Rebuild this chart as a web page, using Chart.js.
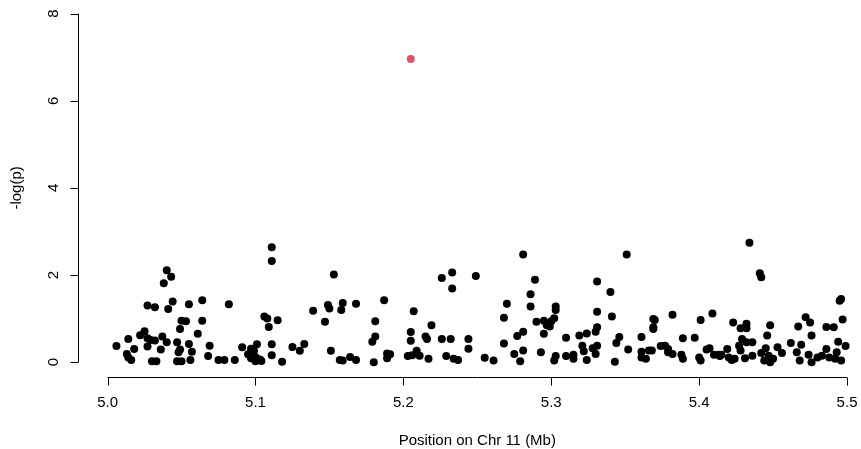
<!DOCTYPE html>
<html>
<head>
<meta charset="utf-8">
<script src="https://cdn.jsdelivr.net/npm/chart.js@4"></script>
<style>
  html, body { margin: 0; padding: 0; background: #fff; }
  #wrap { width: 861px; height: 449px; }
</style>
</head>
<body>
<div id="wrap"><canvas id="assoc" width="861" height="449"></canvas></div>
<script>
// marker positions (Mb) and -log(p)
const positionMb = [
  5.006,5.014,5.018,5.013,5.014,5.016,5.022,5.025,5.027,5.029,5.032,5.027,5.027,5.032,5.030,5.033,
  5.036,5.037,5.038,5.040,5.043,5.041,5.044,5.040,5.047,5.048,5.049,5.049,5.050,5.053,5.047,5.050,
  5.055,5.055,5.056,5.057,5.061,5.064,5.064,5.068,5.069,5.075,5.079,5.082,5.086,5.091,5.095,5.097,
  5.097,5.099,5.100,5.100,5.101,5.103,5.104,5.106,5.108,5.109,5.111,5.111,5.111,5.111,5.115,5.118,
  5.125,5.130,5.133,5.139,5.147,5.149,5.150,5.151,5.153,5.157,5.158,5.159,5.159,5.164,5.168,5.168,
  5.179,5.180,5.181,5.181,5.187,5.189,5.191,5.189,
  5.203,5.205,5.205,5.206,5.207,5.209,5.211,5.215,5.216,5.217,5.219,5.226,5.226,5.229,5.232,5.233,
  5.233,5.234,5.237,5.244,5.244,5.249,5.255,5.261,5.268,5.268,5.270,5.275,5.277,5.279,5.281,5.281,
  5.281,5.286,5.286,5.289,5.290,5.293,5.295,5.295,5.297,5.299,5.300,5.302,5.303,5.303,5.303,5.302,
  5.310,5.310,5.315,5.315,5.319,5.321,5.322,5.324,5.324,5.328,5.331,5.331,5.331,5.330,5.331,5.330,
  5.340,5.341,5.343,5.344,5.346,5.351,5.352,5.361,5.361,5.361,5.364,5.366,5.368,5.369,5.370,5.369,
  5.369,5.374,5.377,5.379,5.379,5.382,5.382,5.388,5.389,5.389,5.397,5.400,5.401,5.401,
  5.405,5.407,5.409,5.410,5.413,5.414,5.415,5.419,5.420,5.422,5.423,5.424,5.427,5.428,5.428,5.429,
  5.431,5.432,5.432,5.432,5.434,5.436,5.436,5.441,5.442,5.442,5.444,5.445,5.446,5.447,5.448,5.448,
  5.450,5.453,5.456,5.462,5.466,5.467,5.468,5.469,5.472,5.474,5.475,5.476,5.476,5.480,5.483,5.486,
  5.486,5.488,5.491,5.492,5.493,5.494,5.495,5.496,5.496,5.497,5.499
];
const negLogP = [
  0.37,0.53,0.30,0.19,0.11,0.05,0.62,0.71,0.55,0.51,0.50,0.36,1.30,1.26,0.02,0.02,
  0.29,0.59,1.81,2.11,1.96,1.22,1.39,0.46,0.46,0.23,0.29,0.76,0.95,0.94,0.02,0.02,
  1.33,0.42,0.05,0.24,0.65,0.95,1.42,0.14,0.38,0.05,0.05,1.33,0.05,0.34,0.18,0.31,
  0.09,0.26,0.12,0.02,0.41,0.06,0.03,1.05,1.00,0.81,2.64,2.32,0.41,0.16,0.96,0.01,
  0.35,0.26,0.42,1.18,0.93,1.31,1.23,0.26,2.01,0.05,1.20,1.36,0.04,0.12,1.34,0.05,
  0.47,0.00,0.94,0.59,1.42,0.20,0.18,0.09,
  0.14,0.69,0.49,0.16,1.17,0.26,0.15,0.59,0.53,0.08,0.85,1.93,0.53,0.14,0.53,2.06,
  1.69,0.08,0.05,0.53,0.31,1.98,0.10,0.04,1.02,0.43,1.34,0.19,0.60,0.02,2.47,0.70,
  0.27,1.56,1.28,1.89,0.93,0.23,0.95,0.65,0.85,0.82,0.94,1.01,1.28,1.20,0.14,0.04,
  0.56,0.14,0.17,0.08,0.61,0.38,0.25,0.66,0.05,0.32,1.85,1.16,0.80,0.70,0.38,0.19,
  1.61,1.05,0.01,0.44,0.58,2.47,0.29,0.58,0.24,0.11,0.08,0.27,0.27,0.99,0.97,0.80,
  0.76,0.37,0.38,0.30,0.23,1.09,0.19,0.17,0.55,0.08,0.56,0.11,0.97,0.04,
  0.29,0.32,1.12,0.17,0.17,0.14,0.17,0.30,0.11,0.05,0.91,0.08,0.38,0.78,0.27,0.53,
  0.09,0.88,0.78,0.46,2.74,0.46,0.15,2.04,1.95,0.21,0.04,0.32,0.61,0.15,0.85,0.00,
  0.08,0.34,0.21,0.44,0.23,0.82,0.04,0.40,1.03,0.17,0.91,0.61,0.00,0.11,0.15,0.81,
  0.30,0.11,0.80,0.08,0.23,0.47,1.41,1.45,0.04,0.98,0.37
];
// the top hit, drawn in red
const peakPos = [5.205];
const peakLogP = [6.96];

const xTicks = [5.0, 5.1, 5.2, 5.3, 5.4, 5.5];
const yTicks = [0, 2, 4, 6, 8];

const toPoints = (xs, ys) => xs.map((x, i) => ({ x: x, y: ys[i] }));

// R style base axes: detached lines, outward ticks, rotated y labels
const baseAxes = {
  id: 'baseAxes',
  afterDraw(chart) {
    const ctx = chart.ctx;
    const xs = chart.scales.x, ys = chart.scales.y;
    const area = chart.chartArea;
    ctx.save();
    ctx.strokeStyle = '#000';
    ctx.fillStyle = '#000';
    ctx.lineWidth = 1;
    ctx.font = '15px "Liberation Sans", Arial, sans-serif';

    // x axis
    const yb = Math.round(area.bottom) + 0.5;
    ctx.beginPath();
    ctx.moveTo(xs.getPixelForValue(xTicks[0]), yb);
    ctx.lineTo(xs.getPixelForValue(xTicks[xTicks.length - 1]), yb);
    xTicks.forEach(t => {
      const px = Math.round(xs.getPixelForValue(t)) + 0.5;
      ctx.moveTo(px, yb);
      ctx.lineTo(px, yb + 8);
    });
    ctx.stroke();
    ctx.textAlign = 'center';
    ctx.textBaseline = 'middle';
    xTicks.forEach(t => ctx.fillText(t.toFixed(1), xs.getPixelForValue(t), yb + 25));
    ctx.fillText('Position on Chr 11 (Mb)', xs.getPixelForValue(5.25), yb + 63);

    // y axis
    const xl = Math.round(area.left) + 0.5;
    ctx.beginPath();
    ctx.moveTo(xl, ys.getPixelForValue(yTicks[0]));
    ctx.lineTo(xl, ys.getPixelForValue(yTicks[yTicks.length - 1]));
    yTicks.forEach(t => {
      const py = Math.round(ys.getPixelForValue(t)) + 0.5;
      ctx.moveTo(xl, py);
      ctx.lineTo(xl - 8, py);
    });
    ctx.stroke();
    yTicks.forEach(t => {
      ctx.save();
      ctx.translate(xl - 25, ys.getPixelForValue(t));
      ctx.rotate(-Math.PI / 2);
      ctx.fillText(String(t), 0, 0);
      ctx.restore();
    });
    ctx.save();
    ctx.translate(17, ys.getPixelForValue(4));
    ctx.rotate(-Math.PI / 2);
    ctx.fillText('-log(p)', 0, 0);
    ctx.restore();

    ctx.restore();
  }
};

new Chart(document.getElementById('assoc'), {
  type: 'scatter',
  data: {
    datasets: [
      { label: 'markers', data: toPoints(positionMb, negLogP), backgroundColor: '#000', pointRadius: 4, borderWidth: 0 },
      { label: 'top', data: toPoints(peakPos, peakLogP), backgroundColor: '#DF536B', pointRadius: 4, borderWidth: 0 }
    ]
  },
  options: {
    responsive: false,
    animation: false,
    layout: { padding: { left: 78, right: 11, top: 3, bottom: 72 } },
    plugins: { legend: { display: false }, tooltip: { enabled: false } },
    scales: {
      x: { type: 'linear', min: 4.98, max: 5.502, display: false },
      y: { type: 'linear', min: -0.34, max: 8.22, display: false }
    }
  },
  plugins: [baseAxes]
});
</script>
</body>
</html>
